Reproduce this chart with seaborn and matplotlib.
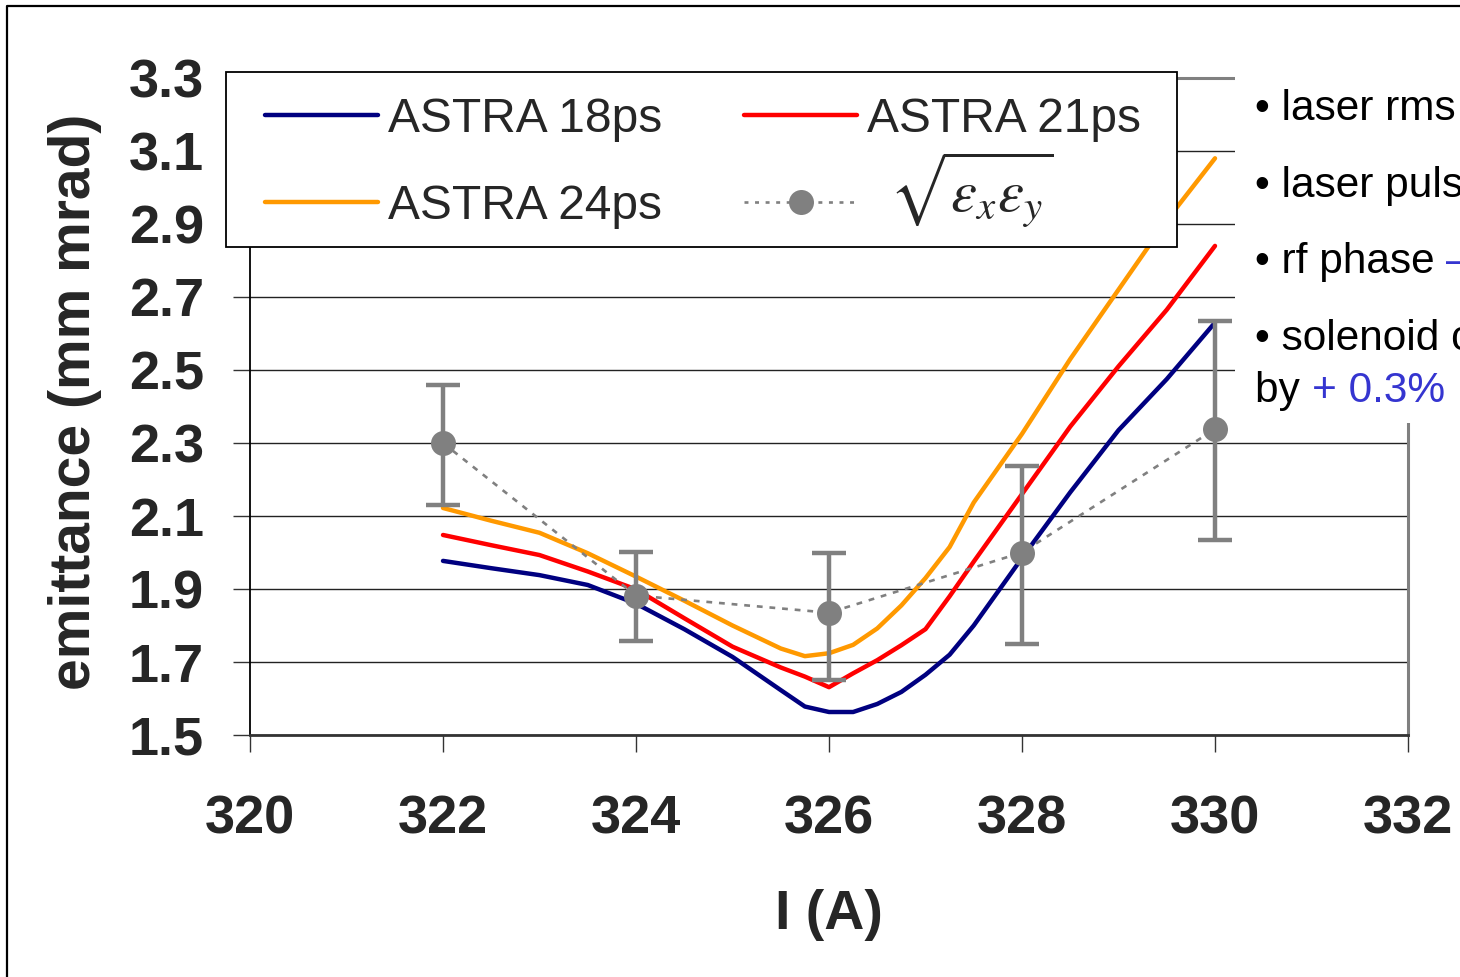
import numpy as np
import pandas as pd
import matplotlib
matplotlib.use("Agg")
import matplotlib.pyplot as plt
import seaborn as sns
from matplotlib.lines import Line2D
from matplotlib.patches import Rectangle
from matplotlib.text import Annotation

# ---------------- data ----------------
current = [322, 322.5, 323, 323.5, 324, 324.5, 325, 325.5, 325.75, 326,
           326.25, 326.5, 326.75, 327, 327.25, 327.5, 328, 328.5, 329, 329.5, 330]
astra_18ps = [1.977, 1.957, 1.938, 1.911, 1.860, 1.790, 1.714, 1.623, 1.578, 1.563,
              1.563, 1.585, 1.618, 1.665, 1.720, 1.800, 1.985, 2.165, 2.335, 2.475, 2.630]
astra_21ps = [2.048, 2.020, 1.993, 1.948, 1.899, 1.820, 1.742, 1.685, 1.660, 1.631,
              1.669, 1.705, 1.746, 1.790, 1.880, 1.975, 2.160, 2.345, 2.510, 2.665, 2.840]
astra_24ps = [2.122, 2.087, 2.054, 1.998, 1.934, 1.868, 1.800, 1.737, 1.716, 1.724,
              1.747, 1.792, 1.855, 1.930, 2.015, 2.137, 2.325, 2.530, 2.720, 2.910, 3.080]

meas_current = [322, 324, 326, 328, 330]
meas_emit = [2.300, 1.882, 1.835, 2.000, 2.338]
meas_low = [2.130, 1.757, 1.650, 1.749, 2.034]
meas_high = [2.460, 2.001, 2.000, 2.237, 2.635]

series_names = ["ASTRA 18ps", "ASTRA 21ps", "ASTRA 24ps"]
series_colors = ["#000080", "#FF0000", "#FF9900"]
meas_label = r"$\sqrt{\varepsilon_x\varepsilon_y}$"

x_ticks = [320, 322, 324, 326, 328, 330, 332]
y_ticks = [1.5, 1.7, 1.9, 2.1, 2.3, 2.5, 2.7, 2.9, 3.1, 3.3]

side_lines = ["• laser rms", "• laser puls", "• rf phase ", "• solenoid c", "by "]
side_blue = {2: "–", 4: "+ 0.3%"}

# ---------------- style ----------------
sns.set_theme(style="white")
plt.rcParams["font.family"] = ["Liberation Sans", "DejaVu Sans"]

W, H = 1460, 977
fig = plt.figure(figsize=(W / 100, H / 100), dpi=100)
fig.patch.set_facecolor("white")
ax = fig.add_axes([250 / W, (H - 735) / H, 1158 / W, 657 / H])
ax.set_facecolor("white")

df = pd.DataFrame({
    "I": current * 3,
    "emit": astra_18ps + astra_21ps + astra_24ps,
    "series": sum([[n] * len(current) for n in series_names], []),
})
sns.lineplot(data=df, x="I", y="emit", hue="series", palette=dict(zip(series_names, series_colors)),
             linewidth=3.2, sort=False, legend=False, ax=ax, zorder=3)

emit = np.array(meas_emit)
yerr = np.vstack([emit - np.array(meas_low), np.array(meas_high) - emit])
ax.errorbar(meas_current, meas_emit, yerr=yerr, fmt="none", ecolor="#808080",
            elinewidth=3.2, capsize=12, capthick=3.2, zorder=4)
sns.lineplot(x=meas_current, y=meas_emit, color="#808080", linewidth=1.9,
             linestyle=(0, (2.2, 2.6)), marker="o", markersize=18, markeredgewidth=0,
             legend=False, ax=ax, zorder=5)

ax.set_xlim(320, 332)
ax.set_ylim(1.5, 3.3)
ax.set_xticks(x_ticks)
ax.set_yticks(y_ticks)
ax.set_xticklabels([str(t) for t in x_ticks])
ax.set_yticklabels([f"{t:.1f}" for t in y_ticks])
ax.set_axisbelow(True)
ax.grid(axis="y", color="#222222", linewidth=1.0)
ax.grid(axis="x", visible=False)

ax.tick_params(axis="x", direction="out", length=12, width=1.0, color="#333333",
               pad=31, labelsize=39, bottom=True)
ax.tick_params(axis="y", direction="out", length=12, width=1.0, color="#333333",
               pad=21, labelsize=39, left=True)
for lab in ax.get_xticklabels() + ax.get_yticklabels():
    lab.set_fontweight("bold")

for side, col, lw in [("left", "#000000", 1.3), ("bottom", "#333333", 2.0),
                      ("top", "#808080", 2.2), ("right", "#808080", 2.2)]:
    ax.spines[side].set_visible(True)
    ax.spines[side].set_color(col)
    ax.spines[side].set_linewidth(lw)

ax.set_xlabel("I (A)", fontsize=40, fontweight="bold")
ax.set_ylabel("emittance (mm mrad)", fontsize=41, fontweight="bold")
ax.xaxis.label.set_va("center")
ax.xaxis.set_label_coords(0.5, (735 - 915) / 657)
ax.yaxis.label.set_va("center")
ax.yaxis.set_label_coords((75 - 250) / 1158, (735 - 402) / 657)

# legend frame (drawn separately so that padding can match)
ax.add_patch(Rectangle((226 / W, 1 - 247 / H), (1177 - 226) / W, (247 - 72) / H,
                       transform=fig.transFigure, facecolor="white", edgecolor="black",
                       linewidth=1.3, clip_on=False, zorder=9))

# legend (column-wise order: 18ps, 24ps | 21ps, measurement)
handles = [
    Line2D([], [], color=series_colors[0], linewidth=3.2),
    Line2D([], [], color=series_colors[2], linewidth=3.2),
    Line2D([], [], color=series_colors[1], linewidth=3.2),
    Line2D([], [], color="#808080", linewidth=1.9, linestyle=(0, (1.5, 2.5)),
           marker="o", markersize=18, markeredgewidth=0),
]
labels = [series_names[0], series_names[2], series_names[1], " "]
leg = ax.legend(handles, labels, ncol=2, loc="upper left",
                bbox_to_anchor=(265 / W, 1 - 97 / H), bbox_transform=fig.transFigure,
                borderaxespad=0, fontsize=34.5, frameon=False, borderpad=0,
                labelspacing=0.88, handlelength=2.35, handletextpad=0.21,
                columnspacing=1.72)
leg.set_zorder(10)

sq = Annotation(meas_label, xy=(0, 0.5), xycoords=leg.get_texts()[3],
                xytext=(75, 12.5), textcoords="offset points", ha="center", va="center",
                fontsize=42, annotation_clip=False)
sq.set_math_fontfamily("stix")
sq.set_zorder(11)
fig.add_artist(sq)

# white box with side notes
fig.add_artist(Rectangle((1235 / W, 1 - 423 / H), (W - 1235) / W, (423 - 55) / H,
                         transform=fig.transFigure, facecolor="white",
                         edgecolor="none", zorder=2))
baselines = [120, 197, 273, 350, 402]
blue = "#3535D0"
for i, (txt, yb) in enumerate(zip(side_lines, baselines)):
    t = fig.text(1255 / W, 1 - yb / H, txt, fontsize=30.5, va="baseline", ha="left",
                 color="black", zorder=3)
    if i in side_blue:
        ann = Annotation(side_blue[i], xy=(1, 0), xycoords=t, va="bottom", ha="left",
                         fontsize=30.5, color=blue, annotation_clip=False)
        ann.set_zorder(3)
        fig.add_artist(ann)

# outer frame (left and top edges)
fig.add_artist(Line2D([7 / W, 7 / W, 1.0], [0.0, 1 - 6 / H, 1 - 6 / H],
                      transform=fig.transFigure, color="black", linewidth=1.6, zorder=4))

fig.savefig("out.png", dpi=100, facecolor="white")
